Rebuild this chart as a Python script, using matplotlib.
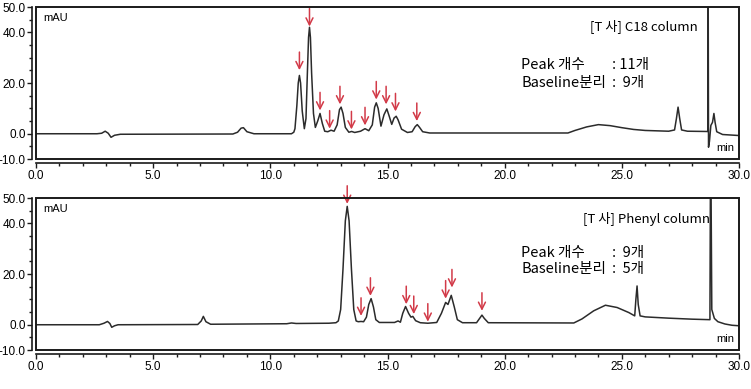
import matplotlib
matplotlib.use('Agg')
import matplotlib.pyplot as plt
import matplotlib.ticker as ticker
from matplotlib.patches import Rectangle

plt.rcParams['font.family'] = ['Liberation Sans', 'Noto Sans CJK KR']

# chromatogram traces: (time in min, signal in mAU)
c18_trace = [
	(0.0, 0.0), (2.6, 0.0), (2.8, 0.2), (2.95, 1.0), (3.08, 0.2), (3.2, -1.4), (3.35, -0.6), (3.6, -0.2),
	(8.4, -0.1), (8.6, 0.6), (8.75, 2.2), (8.85, 2.4), (9.0, 0.8), (9.3, 0.0),
	(10.9, 0.0), (11.0, 0.6), (11.05, 2.0), (11.13, 11.0), (11.19, 20.0), (11.24, 23.0), (11.29, 20.0),
	(11.36, 9.0), (11.45, 2.0), (11.52, 6.0), (11.58, 24.0), (11.63, 38.0), (11.67, 42.0), (11.71, 38.0),
	(11.76, 24.0), (11.84, 8.0), (11.92, 2.5),
	(12.02, 5.0), (12.12, 8.0), (12.22, 4.0), (12.32, 1.0), (12.45, 0.8), (12.59, 1.4), (12.72, 1.0),
	(12.85, 3.5), (12.95, 9.5), (13.02, 10.5), (13.1, 8.0), (13.2, 2.5), (13.35, 0.6), (13.47, 0.9),
	(13.6, 0.5), (13.85, 1.0), (14.04, 2.0), (14.2, 1.2), (14.35, 3.5), (14.45, 10.5), (14.52, 12.2),
	(14.6, 10.0), (14.72, 3.0), (14.85, 7.5), (14.97, 9.8), (15.07, 7.0), (15.18, 3.7), (15.28, 6.2),
	(15.37, 6.9), (15.45, 5.5), (15.6, 1.8), (15.85, 0.5), (16.05, 0.8), (16.18, 2.8), (16.27, 3.6),
	(16.36, 2.6), (16.5, 0.8), (16.8, 0.3),
	(22.7, 0.3), (23.0, 1.3), (23.5, 2.7), (24.0, 3.6), (24.5, 3.2), (25.0, 2.4), (25.5, 1.7), (26.0, 1.3),
	(27.0, 1.0), (27.25, 1.5), (27.33, 6.0), (27.4, 10.5), (27.47, 6.0), (27.55, 1.5), (27.8, 1.0),
	(28.6, 0.9), (28.67, 0.9), (28.68, 80.0), (28.70, -5.3), (28.74, -3.0), (28.8, 3.3), (28.87, 4.5),
	(28.93, 8.0), (28.98, 4.5), (29.05, 0.8), (29.3, -0.3), (30.0, -0.7),
]

phenyl_trace = [
	(0.0, 0.0), (2.7, 0.0), (2.9, 0.6), (3.05, 1.3), (3.15, 0.5), (3.23, -1.0), (3.35, -0.4), (3.5, 0.0),
	(6.9, 0.1), (7.05, 1.5), (7.14, 3.3), (7.25, 1.2), (7.45, 0.2),
	(10.7, 0.4), (10.9, 0.7), (11.1, 0.5), (12.5, 0.6), (12.8, 0.8), (12.9, 1.5), (13.0, 6.0),
	(13.1, 22.0), (13.2, 41.0), (13.28, 46.7), (13.36, 41.0), (13.46, 22.0), (13.56, 6.0), (13.66, 1.5),
	(13.75, 1.2), (13.87, 1.3),
	(13.98, 1.2), (14.1, 3.0), (14.2, 8.0), (14.3, 10.3), (14.4, 7.0), (14.5, 2.0), (14.65, 0.9),
	(15.3, 0.9), (15.45, 1.5), (15.55, 1.0), (15.65, 4.5), (15.77, 7.2), (15.9, 4.5), (16.0, 3.0),
	(16.08, 3.3), (16.2, 1.6), (16.4, 0.8), (16.72, 0.6), (17.1, 0.9), (17.3, 4.5), (17.48, 8.8),
	(17.58, 8.0), (17.72, 11.6), (17.85, 7.0), (17.98, 2.0), (18.2, 0.8), (18.8, 0.8), (18.93, 2.5),
	(19.03, 3.8), (19.13, 2.5), (19.3, 0.8),
	(22.95, 0.7), (23.3, 2.3), (23.8, 5.5), (24.3, 7.7), (24.8, 6.8), (25.3, 4.8), (25.55, 3.5),
	(25.6, 10.0), (25.65, 15.3), (25.7, 8.0), (25.78, 3.5), (26.0, 3.1), (27.0, 2.6), (28.0, 2.2),
	(28.76, 2.0), (28.79, 80.0), (28.84, 6.0), (28.95, 2.5), (29.1, 1.2), (29.4, 0.3), (29.7, -0.2),
	(30.0, -0.4),
]

# red arrows marking the counted peaks (time, tip height)
c18_arrow_t = [11.24, 11.67, 12.12, 12.53, 12.97, 13.46, 14.04, 14.52, 14.94, 15.34, 16.25]
c18_arrow_v = [25.1, 42.3, 9.2, 2.0, 11.6, 1.7, 3.3, 13.5, 11.6, 8.8, 5.0]
phenyl_arrow_t = [13.28, 13.87, 14.27, 15.8, 16.12, 16.72, 17.48, 17.75, 19.03]
phenyl_arrow_v = [47.7, 3.5, 11.4, 8.1, 4.2, 1.2, 10.3, 14.7, 5.5]

c18_title = '[T 사] C18 column'
phenyl_title = '[T 사] Phenyl column'
c18_counts = ['11개', ' 9개']
phenyl_counts = [' 9개', ' 5개']

y_major = [-10, 0, 20, 40, 50]
line_col = '#2b2b2b'
arrow_col = '#d23a48'


def draw_panel(ax, trace, arrow_t, arrow_v, title, counts, title_x, title_y, count_y):
	t = [p[0] for p in trace]
	v = [p[1] for p in trace]
	ax.plot(t, v, color=line_col, lw=1.1)

	# arrows pointing down at each peak
	for x, y in zip(arrow_t, arrow_v):
		ax.annotate('', xy=(x, y), xytext=(0, 13), textcoords='offset points',
			arrowprops=dict(arrowstyle='->,head_length=0.5,head_width=0.25', color=arrow_col, lw=1.1,
				shrinkA=0, shrinkB=0),
			annotation_clip=False)

	ax.set_xlim(0, 30)
	ax.set_ylim(-10, 50)

	# box frame, with the real axes pushed a little outside it
	ax.add_patch(Rectangle((0, 0), 1, 1, transform=ax.transAxes, fill=False,
		edgecolor='#1a1a1a', lw=1.4, clip_on=False, zorder=5))
	for s in ['top', 'right']:
		ax.spines[s].set_visible(False)
	ax.spines['left'].set_position(('outward', 3))
	ax.spines['bottom'].set_position(('outward', 3))
	for s in ['left', 'bottom']:
		ax.spines[s].set_linewidth(1.2)
		ax.spines[s].set_color('#1a1a1a')

	ax.xaxis.set_major_locator(ticker.MultipleLocator(5))
	ax.xaxis.set_minor_locator(ticker.MultipleLocator(1))
	ax.xaxis.set_major_formatter(ticker.FormatStrFormatter('%.1f'))
	ax.yaxis.set_major_locator(ticker.FixedLocator(y_major))
	ax.yaxis.set_minor_locator(ticker.MultipleLocator(5))
	ax.yaxis.set_major_formatter(ticker.FormatStrFormatter('%.1f'))
	ax.tick_params(which='major', length=3.5, width=1.0, labelsize=8.5, pad=1, color='#1a1a1a')
	ax.tick_params(which='minor', length=2.2, width=1.0, color='#1a1a1a')

	ax.text(0.011, 0.928, 'mAU', transform=ax.transAxes, fontsize=8, va='center', ha='left')
	ax.text(0.993, 0.072, 'min', transform=ax.transAxes, fontsize=8, va='center', ha='right')
	ax.text(title_x, title_y, title, transform=ax.transAxes, fontsize=9.5, va='center', ha='right',
		family=['Noto Sans CJK KR'])

	labels = ['Peak 개수', 'Baseline분리']
	for i in range(2):
		ax.text(0.69, count_y[i], labels[i], transform=ax.transAxes, fontsize=10.5, va='center',
			ha='left', family=['Noto Sans CJK KR'])
		ax.text(0.82, count_y[i], ': ' + counts[i], transform=ax.transAxes, fontsize=10.5, va='center',
			ha='left', family=['Noto Sans CJK KR'])


def main():
	fig = plt.figure(figsize=(7.51, 3.89), dpi=100)
	ax1 = fig.add_axes([0.048, 0.591, 0.936, 0.391])
	ax2 = fig.add_axes([0.048, 0.100, 0.936, 0.391])

	draw_panel(ax1, c18_trace, c18_arrow_t, c18_arrow_v, c18_title, c18_counts,
		0.942, 0.875, [0.618, 0.50])
	draw_panel(ax2, phenyl_trace, phenyl_arrow_t, phenyl_arrow_v, phenyl_title, phenyl_counts,
		0.959, 0.86, [0.64, 0.531])

	fig.savefig('out.png', dpi=100)


if __name__ == '__main__':
	main()
